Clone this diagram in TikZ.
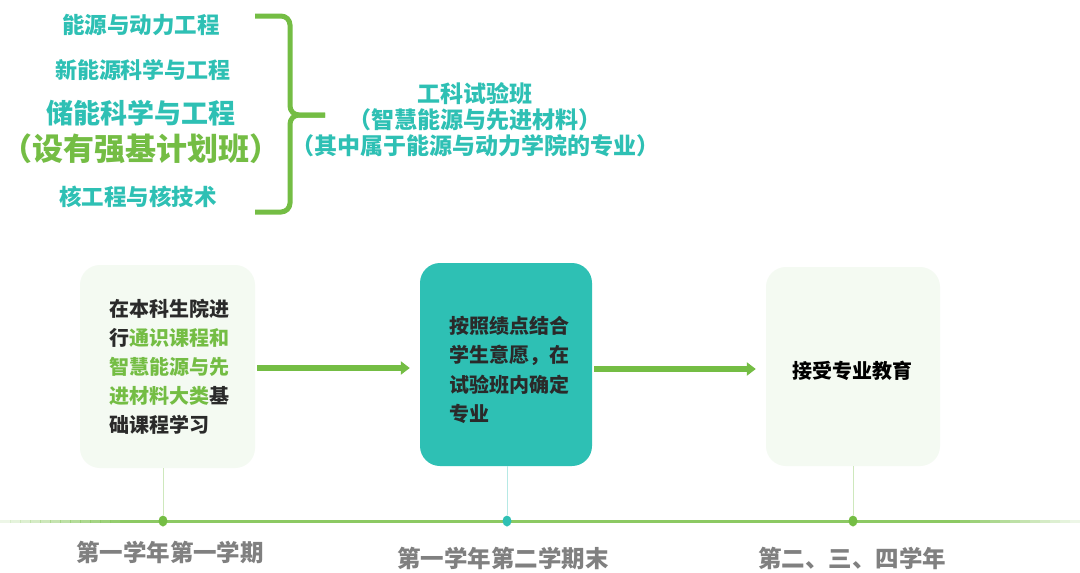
\documentclass[tikz,border=0pt]{standalone}
\usepackage{fontspec}
\setmainfont{Noto Sans CJK SC}
\usetikzlibrary{arrows.meta,shapes.geometric}
\definecolor{tealc}{HTML}{2EC0B4}
\definecolor{greenc}{HTML}{74BD44}
\definecolor{linec}{HTML}{8CC963}
\definecolor{boxlight}{HTML}{F4FAF2}
\definecolor{graytext}{HTML}{808080}
\definecolor{darktext}{HTML}{2A2A2A}
\begin{document}
\begin{tikzpicture}[x=1pt,y=-1pt,
  fs/.style={font=\bfseries\fontsize{#1}{#1}\selectfont},
  major/.style={text=tealc, inner sep=0pt},
  stagebox/.style={rounded corners=20pt, inner sep=0pt, minimum width=175pt, minimum height=203pt},
  flowarrow/.style={greenc, line width=6pt, -{Triangle[length=9pt,width=13pt]}, shorten <=2pt, shorten >=10pt},
  tick/.style={line width=0.8pt},
  dot/.style={ellipse, minimum width=9pt, minimum height=11pt, inner sep=0pt},
  period/.style={text=graytext, inner sep=0pt, font=\bfseries\fontsize{23.5}{23.5}\selectfont},
  bodytext/.style={font=\bfseries\fontsize{20}{29}\selectfont, align=left, text=darktext}
]
\useasboundingbox (0,0) rectangle (1080,573);
\fill[white] (0,0) rectangle (1080,573);

% majors
\node[major, fs=22.5] (m1) at (141,25) {能源与动力工程};
\node[major, fs=22] (m2) at (143,70) {新能源科学与工程};
\node[major, fs=27] (m3) at (141,113) {储能科学与工程};
\node[major, fs=31, text=greenc] (m4) at (141,149) {（设有强基计划班）};
\node[major, fs=22.5] (m5) at (138,197) {核工程与核技术};

% brace
\coordinate (btop) at (255,16);
\coordinate (bbot) at (255,212);
\coordinate (btip) at (325,115);
\draw[greenc, line width=5pt, rounded corners=9pt, line cap=butt]
  (btop) -- (290,16) -- (290,115) -- (btip);
\draw[greenc, line width=5pt, rounded corners=9pt, line cap=butt]
  (btip) -- (290,115) -- (290,212) -- (bbot);

% class text
\node[major, align=center, font=\bfseries\fontsize{23}{26}\selectfont] (cls) at (475,120)
  {工科试验班\\（智慧能源与先进材料）\\（其中属于能源与动力学院的专业）};

% stage boxes
\node[stagebox, fill=boxlight] (b1) at (167.5,366.5) {};
\node[bodytext, text width=122pt, anchor=north west] (t1) at (106,296)
  {在本科生院进\\行\textcolor{greenc}{通识课程和}\\\textcolor{greenc}{智慧能源与先}\\\textcolor{greenc}{进材料大类}基\\础课程学习};
\node[stagebox, fill=tealc, minimum width=172pt] (b2) at (506,364.5) {};
\node[bodytext, text width=122pt, anchor=north west, font=\bfseries\fontsize{20}{29.5}\selectfont] (t2) at (446,312.5)
  {按照绩点结合\\学生意愿，在\\试验班内确定\\专业};
\node[stagebox, fill=boxlight, minimum width=174pt, minimum height=199pt] (b3) at (853,366.5) {};
\node[bodytext, inner sep=0pt, text=black] (t3) at (852,371) {接受专业教育};

% arrows
\draw[flowarrow] (b1.east |- 0,368) -- (b2.west |- 0,368);
\draw[flowarrow] (b2.east |- 0,369) -- (b3.west |- 0,369);

% timeline
\coordinate (tl) at (0,521);
\coordinate (tr) at (1080,521);
\draw[linec, line width=3pt] (120,521) -- (960,521);
\foreach \i in {0,...,11}{
  \pgfmathsetmacro{\op}{0.15+0.07*\i}
  \draw[linec, line width=3pt, opacity=\op] (\i*10,521) -- (\i*10+10.5,521);
  \draw[linec, line width=3pt, opacity=\op] (1080-\i*10,521) -- (1080-\i*10-10.5,521);
}
\node[dot, fill=greenc] (d1) at (163,521) {};
\node[dot, fill=tealc] (d2) at (507,521) {};
\node[dot, fill=greenc] (d3) at (853,521) {};
\draw[tick, greenc!35] (b1.south -| d1) -- (d1);
\draw[tick, tealc!35] (b2.south -| d2) -- (d2);
\draw[tick, greenc!35] (b3.south -| d3) -- (d3);

% periods
\node[period] (p1) at (170,552) {第一学年第一学期};
\node[period] (p2) at (503,558) {第一学年第二学期末};
\node[period] (p3) at (852,558) {第二、三、四学年};
\end{tikzpicture}
\end{document}
